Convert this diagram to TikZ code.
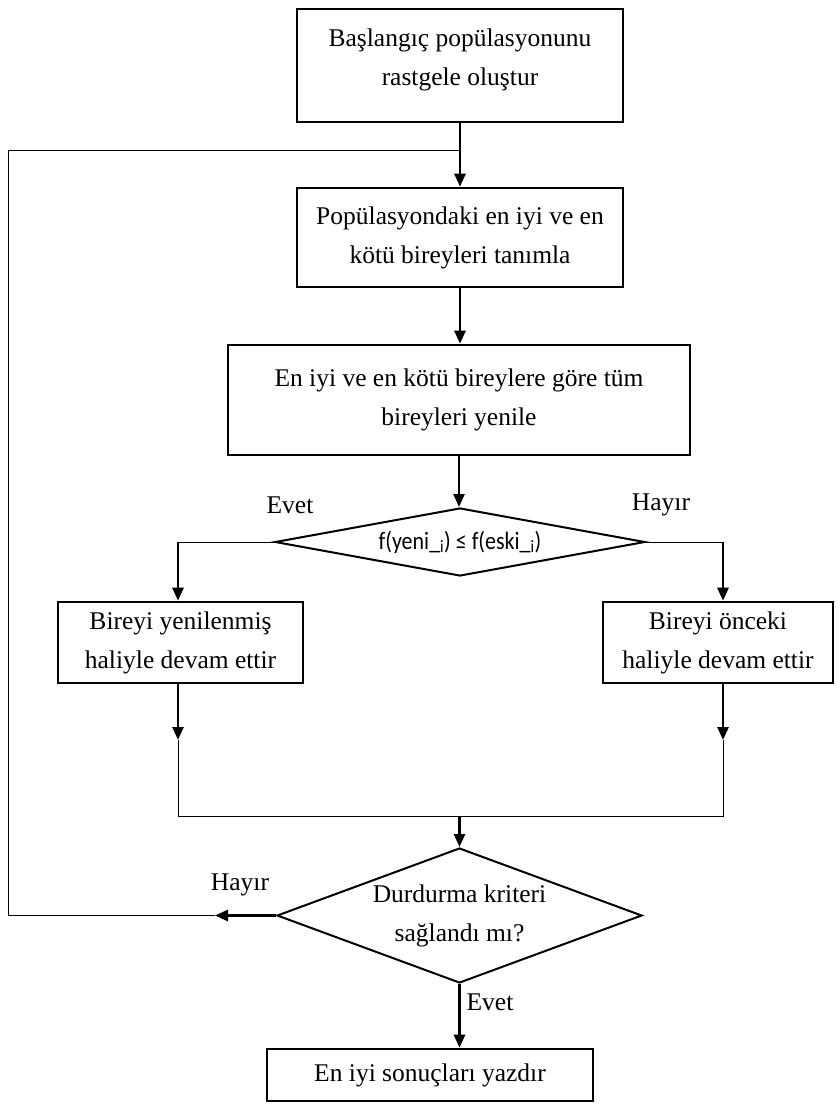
\documentclass[tikz,border=0pt]{standalone}
\usepackage{fontspec}
\setmainfont{Liberation Serif}
\newfontfamily\calib{Carlito}
\usetikzlibrary{shapes.geometric,arrows.meta}
\begin{document}
\begin{tikzpicture}[x=1pt,y=-1pt,
  every node/.style={font=\fontsize{25.5}{39}\selectfont},
  box/.style={draw,line width=2.6pt,align=center,inner sep=0pt},
  dia/.style={draw,line width=2pt,shape=diamond,align=center,inner sep=0pt},
  arr/.style={line width=2.6pt,-{Triangle[length=13pt,width=11pt]}},
  thin/.style={line width=1pt},
  lbl/.style={inner sep=0pt,align=center}]
\useasboundingbox (0,0) rectangle (840,1109);
\node[box,minimum width=326pt,minimum height=113pt] (b1) at (460,65.5) {};
\node[lbl] (b1t) at (460,60) {Başlangıç popülasyonunu\\rastgele oluştur};
\node[box,minimum width=326pt,minimum height=99pt] (b2) at (460,237.5) {Popülasyondaki en iyi ve en\\kötü bireyleri tanımla};
\node[box,minimum width=462pt,minimum height=110pt] (b3) at (459,400) {En iyi ve en kötü bireylere göre tüm\\bireyleri yenile};
\node[dia,minimum width=370pt,minimum height=68pt,aspect=5.4] (d1) at (460,542) {\scalebox{0.88}[1]{\calib\fontsize{25}{28}\selectfont f(yeni\_\textsubscript{i}) ≤ f(eski\_\textsubscript{i})}};
\node[box,minimum width=245pt,minimum height=81pt] (b4) at (180.5,642.5) {Bireyi yenilenmiş\\haliyle devam ettir};
\node[box,minimum width=230pt,minimum height=81pt] (b5) at (718,642.5) {Bireyi önceki\\haliyle devam ettir};
\node[dia,minimum width=365pt,minimum height=135pt,aspect=2.7] (d2) at (459.5,915.5) {Durdurma kriteri\\sağlandı mı?};
\node[box,minimum width=326pt,minimum height=52pt] (b6) at (430,1075) {En iyi sonuçları yazdır};
% labels
\node[lbl] (e1) at (290,505) {Evet};
\node[lbl] (h1) at (661,505) {Hayır};
\node[lbl] (h2) at (240,885) {Hayır};
\node[lbl] (e2) at (490,1002) {Evet};
% coordinates
\coordinate (top) at (460,150);
\coordinate (jl) at (178,542);
\coordinate (jr) at (723,542);
\coordinate (al) at (178,740);
\coordinate (ar) at (723,740);
\coordinate (ml) at (178,816);
\coordinate (mr) at (723,816);
\coordinate (mm) at (459.5,816);
\coordinate (hl) at (215,915.5);
\coordinate (ll) at (8.5,915.5);
\coordinate (lt) at (8.5,150);
% connectors
\draw[arr] (b1.south) -- (b2.north);
\draw[thin] (top) -- (lt) -- (ll) -- (hl);
\draw[arr] (b2.south) -- (b2.south |- b3.north);
\draw[arr] (b3.south) -- (d1.north -| b3.south);
\draw[thin] (d1.west) -- (jl);
\draw[arr] (jl) -- (jl |- b4.north);
\draw[thin] (d1.east) -- (jr);
\draw[arr] (jr) -- (jr |- b5.north);
\draw[arr] (al |- b4.south) -- (al);
\draw[arr] (ar |- b5.south) -- (ar);
\draw[thin] (al) -- (ml) -- (mr) -- (ar);
\draw[arr] (mm) -- (d2.north);
\draw[arr] (d2.west) -- (hl);
\draw[arr] (d2.south) -- (b6.north -| d2.south);
\end{tikzpicture}
\end{document}
